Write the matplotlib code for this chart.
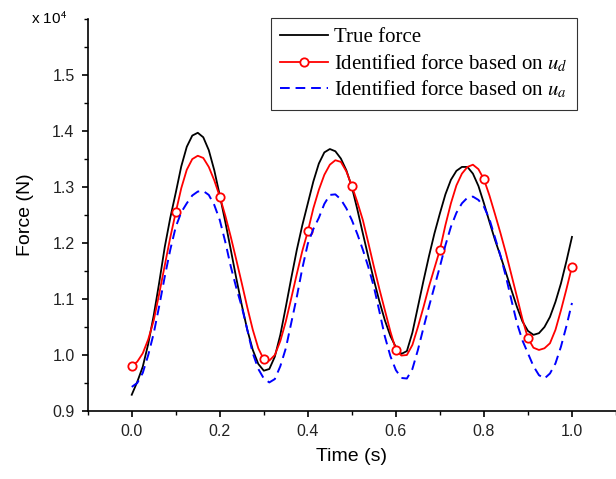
import matplotlib
matplotlib.use("Agg")
import matplotlib.pyplot as plt
from matplotlib.ticker import MultipleLocator
import numpy as np

# time samples (s), step 0.0125 s
time = np.linspace(0.0, 1.0, 81)

# forces (x 10^4 N)
true_force = [0.929, 0.952, 0.979, 1.020, 1.071, 1.130, 1.193, 1.245, 1.290, 1.337,
              1.372, 1.392, 1.397, 1.389, 1.366, 1.330, 1.285, 1.238, 1.188, 1.137,
              1.089, 1.045, 1.009, 0.984, 0.972, 0.975, 0.997, 1.036, 1.086, 1.138,
              1.188, 1.232, 1.271, 1.310, 1.342, 1.362, 1.368, 1.364, 1.351, 1.330,
              1.300, 1.260, 1.217, 1.175, 1.134, 1.096, 1.062, 1.034, 1.014, 1.002,
              1.007, 1.040, 1.086, 1.132, 1.176, 1.217, 1.253, 1.287, 1.313, 1.329,
              1.336, 1.336, 1.324, 1.302, 1.271, 1.238, 1.206, 1.177, 1.147, 1.116,
              1.086, 1.060, 1.043, 1.036, 1.039, 1.050, 1.068, 1.095, 1.128, 1.168, 1.211]

force_ud = [0.980, 0.988, 1.003, 1.028, 1.062, 1.110, 1.160, 1.210, 1.255, 1.298,
            1.331, 1.350, 1.356, 1.352, 1.336, 1.312, 1.283, 1.249, 1.211, 1.170,
            1.128, 1.085, 1.045, 1.012, 0.992, 0.990, 1.000, 1.025, 1.060, 1.102,
            1.145, 1.186, 1.221, 1.262, 1.295, 1.322, 1.340, 1.348, 1.345, 1.328,
            1.302, 1.273, 1.241, 1.200, 1.158, 1.118, 1.080, 1.042, 1.009, 0.999,
            1.000, 1.018, 1.050, 1.085, 1.122, 1.155, 1.188, 1.232, 1.271, 1.303,
            1.324, 1.336, 1.340, 1.332, 1.314, 1.285, 1.252, 1.218, 1.182, 1.143,
            1.104, 1.064, 1.030, 1.013, 1.009, 1.012, 1.021, 1.045, 1.080, 1.118, 1.158]

force_ua = [0.943, 0.950, 0.968, 1.000, 1.039, 1.088, 1.140, 1.188, 1.229, 1.255,
            1.271, 1.285, 1.292, 1.293, 1.286, 1.268, 1.241, 1.202, 1.158, 1.120,
            1.086, 1.045, 1.003, 0.975, 0.958, 0.951, 0.957, 0.980, 1.012, 1.058,
            1.104, 1.155, 1.199, 1.225, 1.245, 1.270, 1.286, 1.287, 1.278, 1.262,
            1.241, 1.216, 1.188, 1.157, 1.122, 1.078, 1.033, 0.998, 0.973, 0.959,
            0.958, 0.975, 1.009, 1.048, 1.086, 1.122, 1.158, 1.196, 1.229, 1.254,
            1.271, 1.281, 1.283, 1.277, 1.265, 1.243, 1.210, 1.178, 1.140, 1.098,
            1.057, 1.026, 1.003, 0.980, 0.964, 0.958, 0.967, 0.985, 1.015, 1.052, 1.093]

x_ticks = [0.0, 0.2, 0.4, 0.6, 0.8, 1.0]
y_ticks = [0.9, 1.0, 1.1, 1.2, 1.3, 1.4, 1.5]

plt.rcParams['mathtext.fontset'] = 'stix'

fig = plt.figure(figsize=(6.16, 4.79), dpi=100)
ax = fig.add_axes([0.1424, 0.142, 0.8576, 0.818])

ax.plot(time, true_force, color='black', lw=1.3, label='True force')
ax.plot(time, force_ud, color='#ff0000', lw=1.3, marker='o', markevery=8,
        markersize=6, markerfacecolor='white', markeredgecolor='#ff0000',
        markeredgewidth=1.3, label='Identified force based on $u_d$')
ax.plot(time, force_ua, color='#0000ff', lw=1.4, linestyle=(0, (5, 3)),
        label='Identified force based on $u_a$')

ax.set_xlim(-0.1, 1.1)
ax.set_ylim(0.9, 1.6)
ax.set_xticks(x_ticks)
ax.set_yticks(y_ticks)
ax.xaxis.set_minor_locator(MultipleLocator(0.1))
ax.yaxis.set_minor_locator(MultipleLocator(0.05))

for s in ['top', 'right']:
    ax.spines[s].set_visible(False)
for s in ['left', 'bottom']:
    ax.spines[s].set_linewidth(1.2)

ax.tick_params(which='major', direction='out', length=4.5, width=1.2,
               labelsize=11.5, pad=5)
ax.tick_params(which='minor', direction='out', length=3, width=1.0)
for lab in ax.get_xticklabels() + ax.get_yticklabels():
    lab.set_fontfamily('Liberation Sans')
    lab.set_color('#222222')

ax.set_xlabel('Time (s)', fontsize=14, family='Liberation Sans', labelpad=6)
ax.set_ylabel('Force (N)', fontsize=14, family='Liberation Sans', labelpad=13)

fig.text(0.08, 0.96, r'x 10$^{\mathsf{4}}$', fontsize=11, family='Liberation Sans',
         ha='center', va='center')

leg = ax.legend(loc='upper right', bbox_to_anchor=(0.926, 1.003), borderaxespad=0,
                frameon=True, fancybox=False, edgecolor='black',
                prop={'family': 'Liberation Serif', 'size': 15},
                handlelength=2.3, handletextpad=0.3, labelspacing=0.25,
                borderpad=0.45)
leg.get_frame().set_linewidth(0.8)

fig.savefig('out.png', dpi=100)
